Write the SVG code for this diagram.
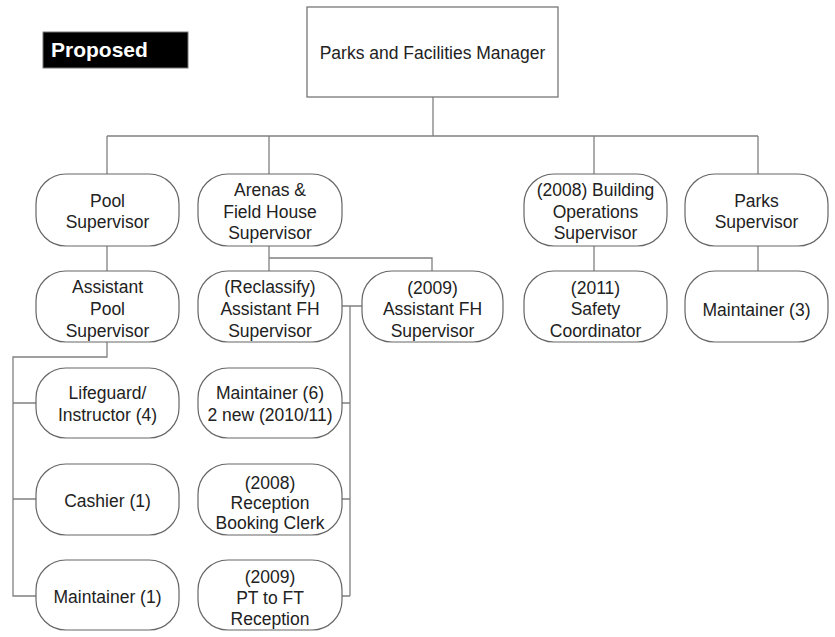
<svg xmlns="http://www.w3.org/2000/svg" width="835" height="637" viewBox="0 0 835 637">
  <style>
    .box { fill: #ffffff; stroke: #666666; stroke-width: 1.2; }
    .lines { fill: none; stroke: #808080; stroke-width: 1.3; }
    text { font-family: "Liberation Sans", Arial, sans-serif; font-size: 17.5px; fill: #222222; text-anchor: middle; }
    .tag { font-weight: bold; font-size: 21px; fill: #ffffff; text-anchor: start; }
  </style>
  <rect width="835" height="637" fill="#ffffff"/>

  <!-- status tag -->
  <g id="proposed-tag">
    <rect x="43" y="32" width="145" height="36" fill="#000000" stroke="#777777" stroke-width="1"/>
    <text class="tag" x="51" y="57">Proposed</text>
  </g>

  <!-- connectors -->
  <g id="connectors" class="lines">
    <path d="M433 97 V136 M107 136 H758 M107 136 V174 M269 136 V174 M594 136 V174 M758 136 V174"/>
    <path d="M107 246 V271 M269 246 V271 M594 246 V271 M758 246 V271"/>
    <path d="M269 258 H432 V271"/>
    <path d="M342 306 H362 M350 306 V596 M342 403 H350 M342 499 H350 M342 596 H350"/>
    <path d="M107 342 V357 H13 V596 H36 M13 403 H36 M13 499 H36"/>
  </g>

  <g id="manager">
    <rect x="307" y="7" width="251" height="90" fill="#ffffff" stroke="#777777" stroke-width="1.3"/>
    <text x="432.5" y="59">Parks and Facilities Manager</text>
  </g>

  <g id="pool-supervisor">
    <rect class="box" x="36" y="174" width="143" height="72" rx="30"/>
    <text x="107.5" y="207">Pool</text>
    <text x="107.5" y="228">Supervisor</text>
  </g>
  <g id="arenas-supervisor">
    <rect class="box" x="198" y="174" width="144" height="72" rx="30"/>
    <text x="270" y="196">Arenas &amp;</text>
    <text x="270" y="218">Field House</text>
    <text x="270" y="239">Supervisor</text>
  </g>
  <g id="building-ops-supervisor">
    <rect class="box" x="524" y="174" width="143" height="72" rx="30"/>
    <text x="595.5" y="196">(2008) Building</text>
    <text x="595.5" y="218">Operations</text>
    <text x="595.5" y="239">Supervisor</text>
  </g>
  <g id="parks-supervisor">
    <rect class="box" x="685" y="174" width="143" height="72" rx="30"/>
    <text x="756.5" y="207">Parks</text>
    <text x="756.5" y="228">Supervisor</text>
  </g>

  <g id="assistant-pool-supervisor">
    <rect class="box" x="36" y="271" width="143" height="71" rx="30"/>
    <text x="107.5" y="293">Assistant</text>
    <text x="107.5" y="315">Pool</text>
    <text x="107.5" y="337">Supervisor</text>
  </g>
  <g id="reclassify-assistant-fh">
    <rect class="box" x="198" y="271" width="144" height="71" rx="30"/>
    <text x="270" y="293">(Reclassify)</text>
    <text x="270" y="315">Assistant FH</text>
    <text x="270" y="337">Supervisor</text>
  </g>
  <g id="assistant-fh-2009">
    <rect class="box" x="362" y="271" width="141" height="71" rx="30"/>
    <text x="432.5" y="294">(2009)</text>
    <text x="432.5" y="315">Assistant FH</text>
    <text x="432.5" y="337">Supervisor</text>
  </g>
  <g id="safety-coordinator">
    <rect class="box" x="524" y="271" width="143" height="71" rx="30"/>
    <text x="595.5" y="294">(2011)</text>
    <text x="595.5" y="315">Safety</text>
    <text x="595.5" y="337">Coordinator</text>
  </g>
  <g id="parks-maintainer">
    <rect class="box" x="685" y="271" width="143" height="71" rx="30"/>
    <text x="756.5" y="316">Maintainer (3)</text>
  </g>

  <g id="lifeguard">
    <rect class="box" x="36" y="368" width="143" height="70" rx="30"/>
    <text x="107.5" y="399">Lifeguard/</text>
    <text x="107.5" y="421">Instructor (4)</text>
  </g>
  <g id="cashier">
    <rect class="box" x="36" y="464" width="143" height="71" rx="30"/>
    <text x="107.5" y="507">Cashier (1)</text>
  </g>
  <g id="pool-maintainer">
    <rect class="box" x="36" y="560" width="143" height="70" rx="30"/>
    <text x="107.5" y="603">Maintainer (1)</text>
  </g>

  <g id="arena-maintainer">
    <rect class="box" x="198" y="368" width="144" height="70" rx="30"/>
    <text x="270" y="399">Maintainer (6)</text>
    <text x="270" y="421">2 new (2010/11)</text>
  </g>
  <g id="booking-clerk">
    <rect class="box" x="198" y="464" width="144" height="71" rx="30"/>
    <text x="270" y="489">(2008)</text>
    <text x="270" y="509">Reception</text>
    <text x="270" y="529">Booking Clerk</text>
  </g>
  <g id="reception-ft">
    <rect class="box" x="198" y="560" width="144" height="70" rx="30"/>
    <text x="270" y="583">(2009)</text>
    <text x="270" y="604">PT to FT</text>
    <text x="270" y="625">Reception</text>
  </g>
</svg>
